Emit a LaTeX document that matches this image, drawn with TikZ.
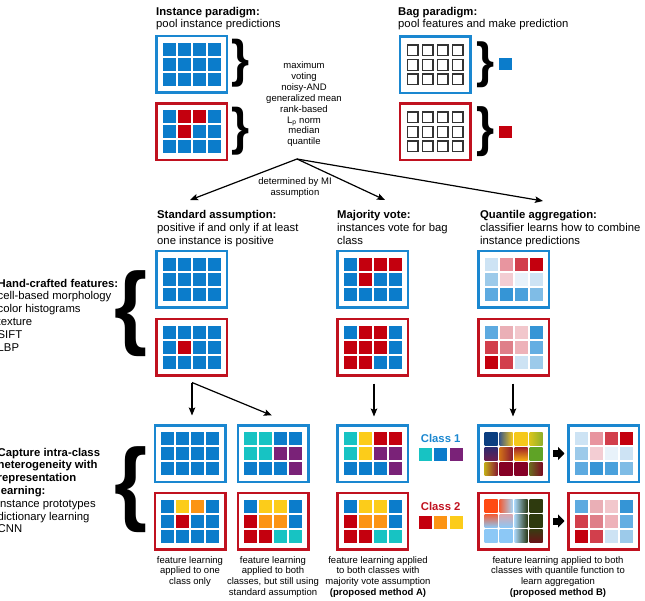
\documentclass[tikz,border=0pt]{standalone}
\usepackage{fontspec}
\usepackage{graphicx}
\setmainfont{Liberation Sans}
\usetikzlibrary{arrows.meta,calc}
\definecolor{cB}{HTML}{0B7CCB}
\definecolor{cR}{HTML}{C4000E}
\definecolor{cC}{HTML}{17C3C3}
\definecolor{cP}{HTML}{7A2278}
\definecolor{cY}{HTML}{FCCC1A}
\definecolor{cO}{HTML}{FC9414}
\definecolor{fB}{HTML}{1A87D0}
\definecolor{fR}{HTML}{C0111F}
\definecolor{qa}{HTML}{CDE3F4}
\definecolor{qb}{HTML}{E8959F}
\definecolor{qc}{HTML}{D23F4C}
\definecolor{qd}{HTML}{C4000E}
\definecolor{qe}{HTML}{9CCAEA}
\definecolor{qf}{HTML}{F3CDD3}
\definecolor{qg}{HTML}{E8F2FA}
\definecolor{qh}{HTML}{CDE3F4}
\definecolor{qi}{HTML}{5DAAE0}
\definecolor{qj}{HTML}{3595D6}
\definecolor{qk}{HTML}{4AA1DC}
\definecolor{ql}{HTML}{7FBCE6}
\definecolor{qm}{HTML}{EAAFB6}
\definecolor{qn}{HTML}{F2C7CC}
\definecolor{qo}{HTML}{DF7F89}
\definecolor{qp}{HTML}{EEB2B9}
\definecolor{qq}{HTML}{64AEE2}
% gradient tile colours
\definecolor{gNavy}{HTML}{0B3E80}
\definecolor{gSlate}{HTML}{3E5A86}
\definecolor{gYel}{HTML}{F5C81B}
\definecolor{gYel2}{HTML}{D9C51C}
\definecolor{gGrn}{HTML}{5FA326}
\definecolor{gGrn2}{HTML}{8EAF2A}
\definecolor{gPur}{HTML}{2C2A6E}
\definecolor{gPur2}{HTML}{6A1E50}
\definecolor{gOra}{HTML}{D07018}
\definecolor{gBrn}{HTML}{8A1A30}
\definecolor{gRed}{HTML}{A01E28}
\definecolor{gAmb}{HTML}{F2A812}
\definecolor{gOli}{HTML}{C0A818}
\definecolor{gWine}{HTML}{850025}
\definecolor{gOli2}{HTML}{6B6A20}
\definecolor{gWine2}{HTML}{7A0A22}
\definecolor{hOr}{HTML}{FF4A12}
\definecolor{hOr2}{HTML}{F0603A}
\definecolor{hSky}{HTML}{8CC8F6}
\definecolor{hSky2}{HTML}{A8D4F4}
\definecolor{hDk}{HTML}{2A3A16}
\definecolor{hOl}{HTML}{2E3A0E}
\definecolor{hPink}{HTML}{D8A8B0}
\definecolor{hBr}{HTML}{6A1418}
\definecolor{hOl2}{HTML}{3A3A12}
\tikzset{
  frameB/.style={draw=fB, line width=2.5pt, fill=white, minimum width=70.5pt, minimum height=56.5pt, inner sep=0pt},
  frameR/.style={frameB, draw=fR},
  head/.style={anchor=north west, align=left, inner sep=0pt, font=\fontsize{11.3}{12.8}\selectfont},
  small/.style={anchor=north, align=center, inner sep=0pt, font=\fontsize{9.5}{10.9}\selectfont},
  arr/.style={line width=1.2pt, -{Stealth[length=8pt,width=6.5pt,inset=1.5pt]}},
  blockarr/.style={line width=7pt, -{Triangle[length=6.5pt,width=13pt]}, shorten <=3pt, shorten >=2.5pt},
  brace/.style={inner sep=0pt, font=\bfseries},
}
\newcommand{\mytiles}[3]{%
  \foreach \cc [count=\i from 0] in {#3}{%
    \pgfmathtruncatemacro{\col}{mod(\i,4)}%
    \pgfmathtruncatemacro{\row}{floor(\i/4)}%
    \fill[fill=\cc] ({#1+(\col-1.5)*15-6.5},{#2+(\row-1)*15-6.5}) rectangle ++(13,13);
  }}
\newcommand{\bagtiles}[2]{%
  \foreach \col in {0,...,3}{\foreach \row in {0,1,2}{%
    \draw[line width=1.3pt, draw=black!80, fill=white] ({#1+(\col-1.5)*15-5.35},{#2+(\row-1)*14.5-5.35}) rectangle ++(10.7,10.7);}}}
\newcommand{\gtile}[5]{\shade[#5] ({#1+(#3-1.5)*15-6.5},{#2+(#4-1)*15-6.5}) rectangle ++(13,13);}
\begin{document}
\begin{tikzpicture}[x=1pt,y=-1pt]
\useasboundingbox (0,0) rectangle (645,601);
% ---------- top row headings
\node[head] (instH) at (156,6.8) {\textbf{Instance paradigm:}\\pool instance predictions};
\node[head] (bagH) at (398,6.8) {\textbf{Bag paradigm:}\\pool features and make prediction};
% ---------- instance paradigm
\node[frameB] (iT) at (191.5,64.5) {};
\node[frameR] (iB) at (191.5,132) {};
\mytiles{191.5}{64.5}{cB,cB,cB,cB,cB,cB,cB,cB,cB,cB,cB,cB}
\mytiles{191.5}{132}{cB,cR,cR,cB,cB,cR,cB,cB,cB,cB,cB,cB}
\node[brace] (br1) at (240.5,63) {\resizebox*{18pt}{48pt}{\}}};
\node[brace] (br2) at (240.5,131) {\resizebox*{18pt}{48pt}{\}}};
\node[small] (agg) at (304,61.5) {maximum\\voting\\noisy-AND\\generalized mean\\rank-based\\L\textsubscript{p} norm\\median\\quantile};
% ---------- bag paradigm
\node[frameB] (bT) at (435,65) {};
\node[frameR] (bB) at (435,132) {};
\bagtiles{435}{65}
\bagtiles{435}{132}
\node[brace] (br3) at (485,65) {\resizebox*{18pt}{46pt}{\}}};
\node[brace] (br4) at (485,132) {\resizebox*{18pt}{50pt}{\}}};
\fill[cB] (499,58) rectangle (512,70.5);
\fill[cR] (499,126) rectangle (512,138.5);
% ---------- MI arrows
\coordinate (hub) at (297,159);
\coordinate (t1) at (190,200);
\coordinate (t2) at (385,200);
\coordinate (t3) at (543,201);
\draw[arr] (hub) -- (t1);
\draw[arr] (hub) -- (t2);
\draw[arr] (hub) -- (t3);
\node[small] (mi) at (295,177.5) {determined by MI\\assumption};
% ---------- second row headings
\node[head] (stdH) at (157,210.3) {\textbf{Standard assumption:}\\positive if and only if at least\\one instance is positive};
\node[head] (majH) at (337,210.3) {\textbf{Majority vote:}\\instances vote for bag\\class};
\node[head] (quaH) at (480,210.3) {\textbf{Quantile aggregation:}\\classifier learns how to combine\\instance predictions};
% ---------- hand-crafted
\node[head] (hand) at (-2.5,278.7) {\textbf{Hand-crafted features:}\\cell-based morphology\\color histograms\\texture\\SIFT\\LBP};
\node[brace] (br5) at (131,314) {\resizebox*{33pt}{86pt}{\{}};
\node[frameB] (sT) at (191.5,279.5) {};
\node[frameR] (sB) at (191.5,347.5) {};
\mytiles{191.5}{279.5}{cB,cB,cB,cB,cB,cB,cB,cB,cB,cB,cB,cB}
\mytiles{191.5}{347.5}{cB,cB,cB,cB,cB,cR,cB,cB,cB,cB,cB,cB}
\node[frameB] (mT) at (372.5,279.5) {};
\node[frameR] (mB) at (372.5,347.5) {};
\mytiles{372.5}{279.5}{cB,cR,cR,cR,cB,cR,cB,cB,cB,cB,cB,cB}
\mytiles{372.5}{347.5}{cB,cR,cR,cB,cR,cR,cR,cB,cR,cR,cB,cB}
\node[frameB] (qT) at (513.5,279.5) {};
\node[frameR] (qB) at (513.5,347.5) {};
\mytiles{513.5}{279.5}{qa,qb,qc,qd,qe,qf,qg,qh,qi,qj,qk,ql}
\mytiles{513.5}{347.5}{qi,qm,qn,qj,qc,qo,qp,qq,qd,qc,qa,qe}
% ---------- downward arrows
\coordinate (s0) at (192,382.5);
\coordinate (s1) at (192,415.5);
\coordinate (s2) at (272,415.5);
\coordinate (m0) at (374,383.5);
\coordinate (m1) at (374,416.5);
\coordinate (q0) at (513,383.5);
\coordinate (q1) at (513,416.5);
\draw[arr] (s0) -- (s1);
\draw[arr] (s0) -- (s2);
\draw[arr] (m0) -- (m1);
\draw[arr] (q0) -- (q1);
% ---------- representation learning
\node[head] (capt) at (-2.5,447.7) {\textbf{Capture intra-class}\\\textbf{heterogeneity with}\\\textbf{representation}\\\textbf{learning:}\\instance prototypes\\dictionary learning\\CNN};
\node[brace] (br6) at (131,489.5) {\resizebox*{33pt}{86pt}{\{}};
\node[frameB] (lT) at (190,453.5) {};
\node[frameR] (lB) at (190,521) {};
\mytiles{190}{453.5}{cB,cB,cB,cB,cB,cB,cB,cB,cB,cB,cB,cB}
\mytiles{190}{521}{cB,cY,cO,cB,cB,cR,cB,cB,cB,cB,cB,cB}
\node[frameB] (rT) at (273,453.5) {};
\node[frameR] (rB) at (273,521) {};
\mytiles{273}{453.5}{cC,cC,cB,cB,cC,cC,cP,cP,cB,cB,cB,cP}
\mytiles{273}{521}{cB,cY,cY,cB,cR,cO,cO,cB,cR,cR,cC,cC}
\node[frameB] (aT) at (372.5,453.5) {};
\node[frameR] (aB) at (372.5,521) {};
\mytiles{372.5}{453.5}{cC,cY,cR,cR,cC,cY,cP,cP,cB,cB,cB,cP}
\mytiles{372.5}{521}{cB,cY,cY,cB,cR,cO,cO,cB,cR,cR,cC,cC}
% class legend
\node[anchor=base, inner sep=0pt, text=fB, font=\bfseries\fontsize{11.3}{12.8}\selectfont] (c1) at (440.7,442.7) {Class 1};
\node[anchor=base, inner sep=0pt, text=fR, font=\bfseries\fontsize{11.3}{12.8}\selectfont] (c2) at (440.7,510) {Class 2};
\fill[cC] (418.5,448) rectangle (431.5,461);
\fill[cB] (434,448) rectangle (447,461);
\fill[cP] (449.5,448) rectangle (462.5,461);
\fill[cR] (418.5,515.5) rectangle (431.5,528.5);
\fill[cO] (434,515.5) rectangle (447,528.5);
\fill[cY] (449.5,515.5) rectangle (462.5,528.5);
% ---------- learned-feature bags (gradients)
\node[frameB] (gT) at (513.5,453.5) {};
\node[frameR] (gB) at (513.5,521) {};
\gtile{513.5}{453.5}{0}{0}{left color=gNavy, right color=gNavy}
\gtile{513.5}{453.5}{1}{0}{left color=gSlate, right color=gYel}
\gtile{513.5}{453.5}{2}{0}{left color=gYel, right color=gYel}
\gtile{513.5}{453.5}{3}{0}{left color=gYel2, right color=gGrn2}
\gtile{513.5}{453.5}{0}{1}{top color=gPur, bottom color=gPur2}
\gtile{513.5}{453.5}{1}{1}{left color=gOra, right color=gBrn}
\gtile{513.5}{453.5}{2}{1}{top color=gRed, bottom color=gAmb}
\gtile{513.5}{453.5}{3}{1}{left color=gGrn, right color=gGrn}
\gtile{513.5}{453.5}{0}{2}{left color=gOli, right color=gBrn}
\gtile{513.5}{453.5}{1}{2}{left color=gWine, right color=gWine}
\gtile{513.5}{453.5}{2}{2}{left color=gWine, right color=gWine}
\gtile{513.5}{453.5}{3}{2}{left color=gOli2, right color=gWine2}
\gtile{513.5}{521}{0}{0}{left color=hOr, right color=hOr}
\gtile{513.5}{521}{1}{0}{left color=hOr2, right color=hSky2}
\gtile{513.5}{521}{2}{0}{left color=hSky2, right color=hDk}
\gtile{513.5}{521}{3}{0}{left color=hOl, right color=hOl}
\gtile{513.5}{521}{0}{1}{top color=hOr2, bottom color=hSky}
\gtile{513.5}{521}{1}{1}{top color=hPink, bottom color=hSky}
\gtile{513.5}{521}{2}{1}{left color=hSky2, right color=hDk}
\gtile{513.5}{521}{3}{1}{left color=hOl, right color=hOl}
\gtile{513.5}{521}{0}{2}{left color=hSky, right color=hSky}
\gtile{513.5}{521}{1}{2}{left color=hSky, right color=hSky}
\gtile{513.5}{521}{2}{2}{left color=hSky2, right color=hDk}
\gtile{513.5}{521}{3}{2}{top color=hOl2, bottom color=hBr}
% ---------- learned aggregation result
\node[frameB] (oT) at (603.5,453.5) {};
\node[frameR] (oB) at (603.5,521) {};
\mytiles{603.5}{453.5}{qa,qb,qc,qd,qe,qf,qg,qh,qi,qj,qk,ql}
\mytiles{603.5}{521}{qi,qm,qn,qj,qc,qo,qp,qq,qd,qc,qa,qe}
\draw[blockarr] (gT.east) -- (oT.west);
\draw[blockarr] (gB.east) -- (oB.west);
% ---------- captions
\node[small] (cap1) at (190,556) {feature learning\\applied to one\\class only};
\node[small] (cap2) at (273,556) {feature learning\\applied to both\\classes, but still using\\standard assumption};
\node[small] (cap3) at (378,556) {feature learning applied\\to both classes with\\majority vote assumption\\\textbf{(proposed method A)}};
\node[small] (cap4) at (558,556) {feature learning applied to both\\classes with quantile function to\\learn aggregation\\\textbf{(proposed method B)}};
\end{tikzpicture}
\end{document}
